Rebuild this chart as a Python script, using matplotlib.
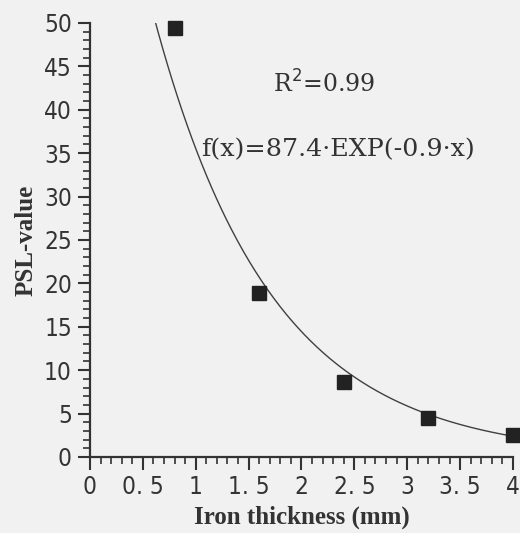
import numpy as np
import matplotlib.pyplot as plt
from matplotlib.ticker import MultipleLocator

# measured points
thickness = [0.8, 1.6, 2.4, 3.2, 4.0]
psl = [49.4, 18.9, 8.6, 4.5, 2.5]

# fit parameters
amp = 87.4
rate = 0.9

x_ticks = [0, 0.5, 1, 1.5, 2, 2.5, 3, 3.5, 4]
x_ticklabels = ['0', '0. 5', '1', '1. 5', '2', '2. 5', '3', '3. 5', '4']
y_ticks = [0, 5, 10, 15, 20, 25, 30, 35, 40, 45, 50]

bg = '#f1f1f1'

fig = plt.figure(figsize=(5.2, 5.33), dpi=100, facecolor=bg)
ax = fig.add_axes([0.173, 0.1426, 0.8135, 0.8144], facecolor=bg)

xf = np.linspace(0.55, 4.0, 300)
ax.plot(xf, amp * np.exp(-rate * xf), color='#404040', lw=1.0)
ax.plot(thickness, psl, 's', color='#222222', ms=10, clip_on=False)

ax.set_xlim(0, 4)
ax.set_ylim(0, 50)
ax.set_xticks(x_ticks)
ax.set_xticklabels(x_ticklabels)
ax.set_yticks(y_ticks)
ax.xaxis.set_minor_locator(MultipleLocator(0.1))
ax.yaxis.set_minor_locator(MultipleLocator(1))

for s in ['top', 'right']:
    ax.spines[s].set_visible(False)
for s in ['left', 'bottom']:
    ax.spines[s].set_linewidth(1.6)
    ax.spines[s].set_color('#333333')

ax.tick_params(which='major', direction='out', length=9, width=1.5, color='#333333', pad=4)
ax.tick_params(which='minor', direction='out', length=5, width=1.2, color='#333333')
for lab in ax.get_xticklabels() + ax.get_yticklabels():
    lab.set_family('DejaVu Sans')
    lab.set_stretch('condensed')
    lab.set_fontsize(17.5)
    lab.set_color('#333333')

ax.set_xlabel('Iron thickness (mm)', family='Liberation Serif', fontweight='bold',
              fontsize=18, color='#333333', labelpad=5)
ax.set_ylabel('PSL-value', family='Liberation Serif', fontweight='bold',
              fontsize=18, color='#333333', labelpad=5)

ax.text(2.21, 43.0, 'R$^2$=0.99', family='DejaVu Serif', fontsize=17,
        color='#333333', ha='center', va='center')
ax.text(2.35, 35.4, 'f(x)=87.4·EXP(-0.9·x)', family='DejaVu Serif', fontsize=18.3,
        color='#333333', ha='center', va='center')

fig.savefig('out.png', dpi=100, facecolor=bg)
